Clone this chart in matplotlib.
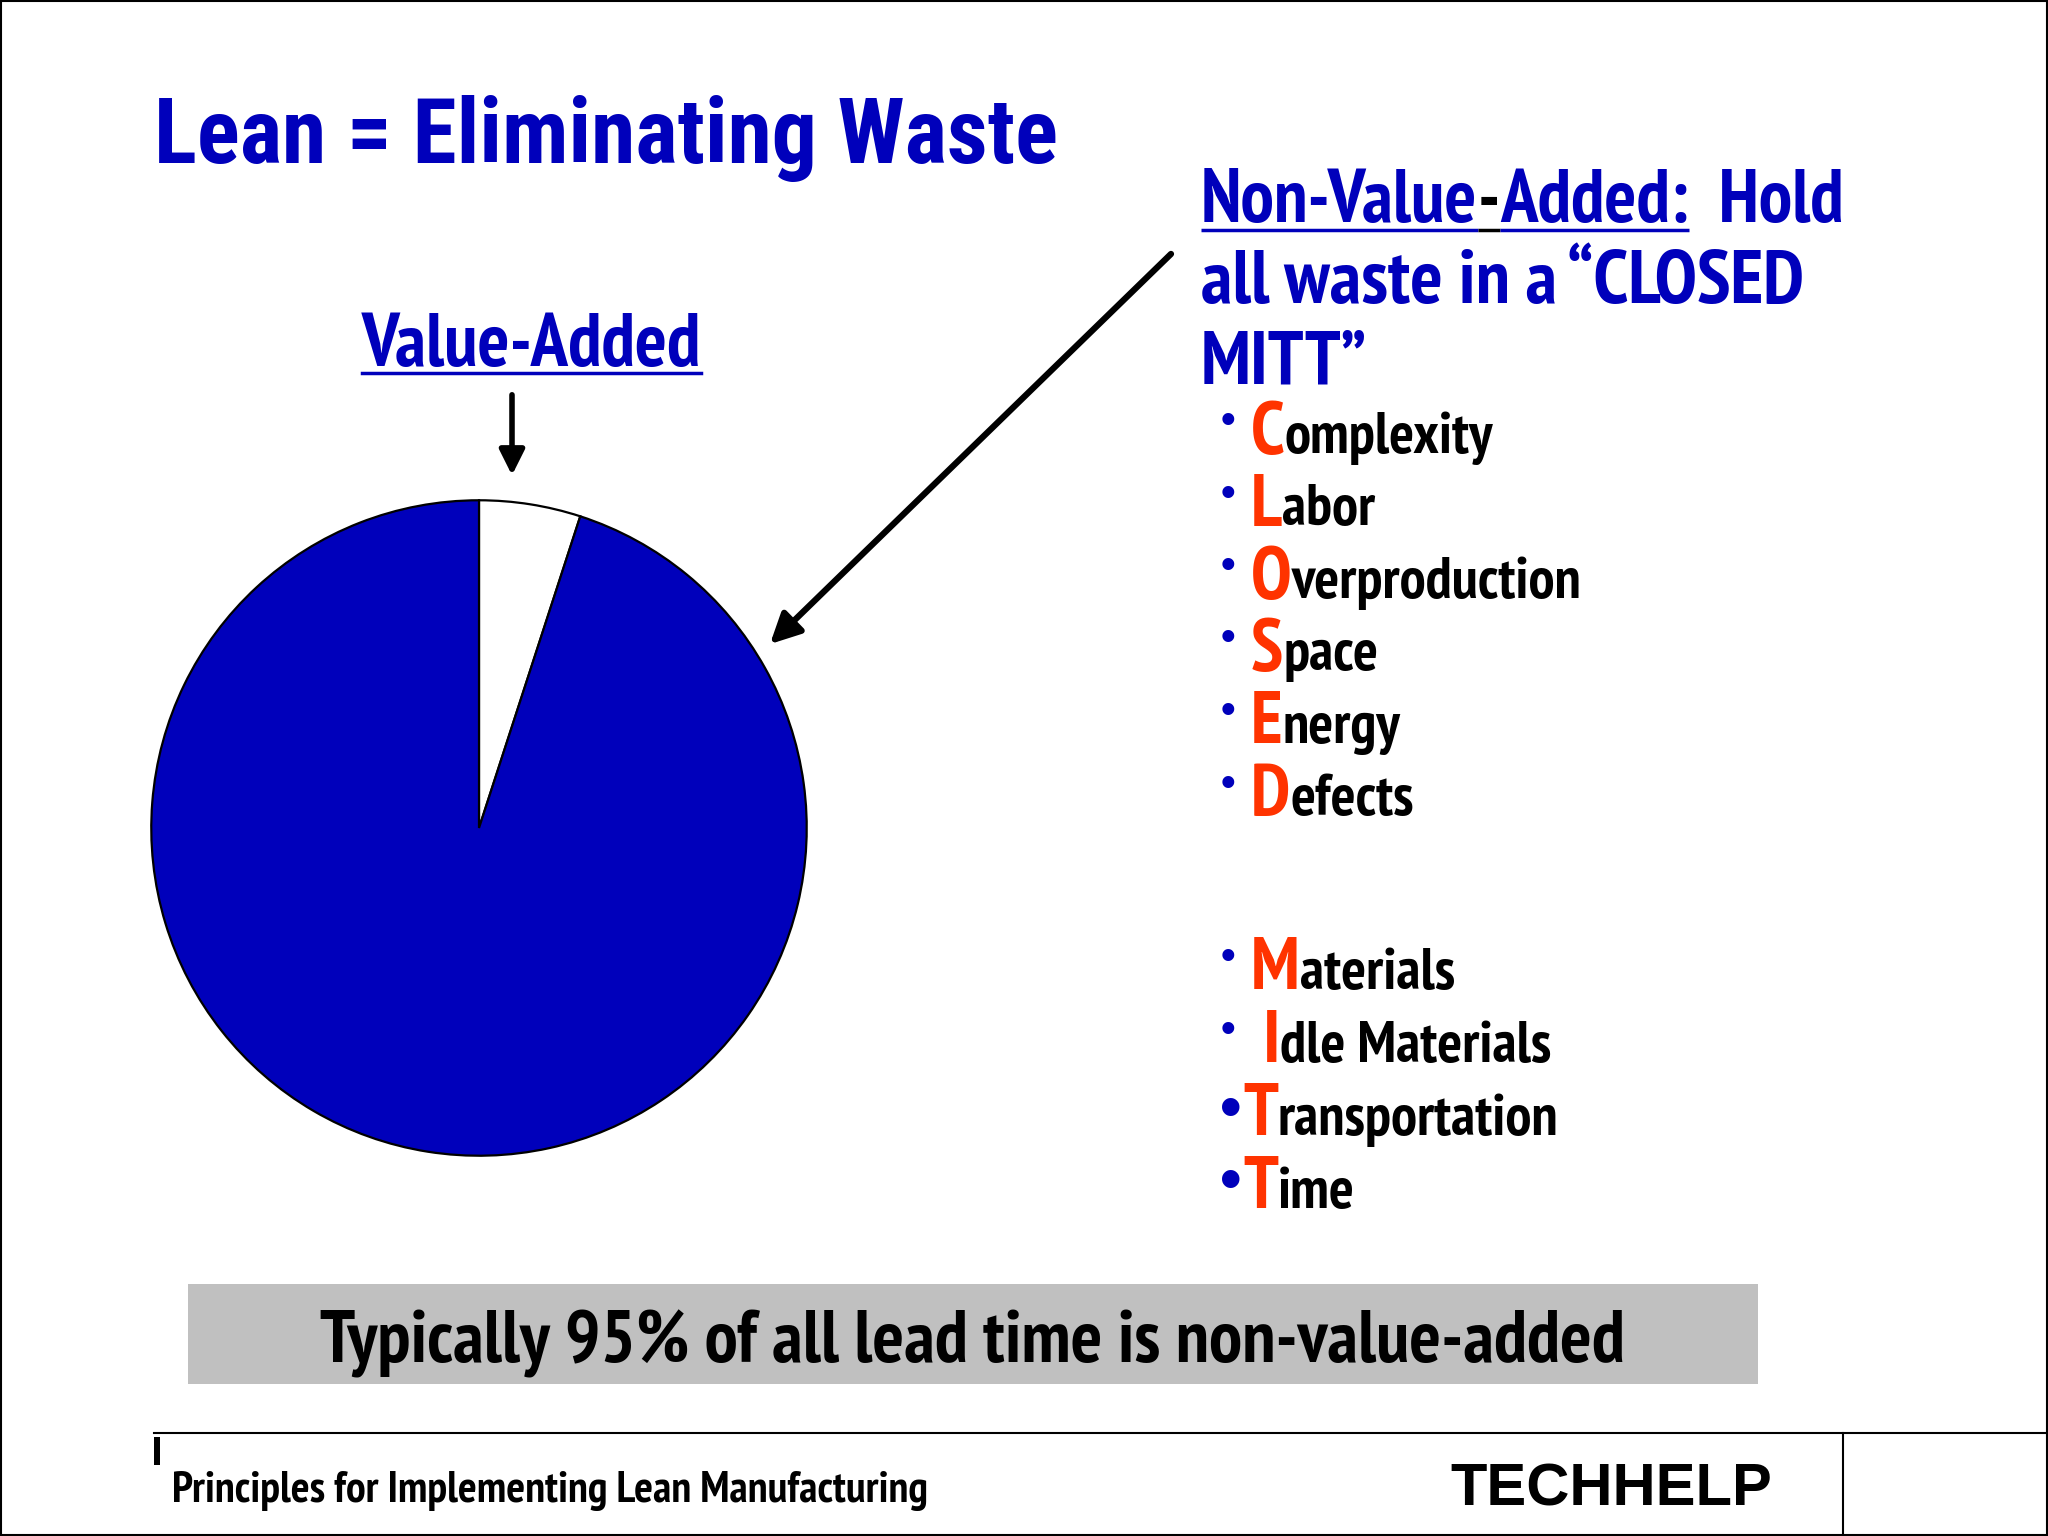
import matplotlib
matplotlib.use('Agg')
import matplotlib.pyplot as plt
from matplotlib.patches import Rectangle

W, H = 2048, 1536
BLUE = '#0000BB'
RED = '#FF3300'
GRAY = '#C0C0C0'
NARROW = ['PT Sans Narrow', 'Roboto Condensed', 'Liberation Sans', 'DejaVu Sans']
TITLE_FONT = ['Roboto Condensed', 'Liberation Sans', 'DejaVu Sans']

plt.rcParams['font.family'] = NARROW
plt.rcParams['font.weight'] = 'bold'

# data: share of lead time
shares = [5, 95]                 # value-added, non-value-added (%)
share_colors = ['white', BLUE]
closed_letters = ['C', 'L', 'O', 'S', 'E', 'D']
closed_words = ['omplexity', 'abor', 'verproduction', 'pace', 'nergy', 'efects']
mitt_letters = ['M', 'I', 'T', 'T']
mitt_words = ['aterials', 'dle Materials', 'ransportation', 'ime']

fig = plt.figure(figsize=(W / 100, H / 100), dpi=100)
fig.patch.set_facecolor('white')

# pie
cx, cy, r = 479, 828, 331
pax = fig.add_axes([(cx - r) / W, (H - cy - r) / H, 2 * r / W, 2 * r / H])
pax.pie(shares, colors=share_colors, startangle=90, counterclock=False,
        wedgeprops=dict(edgecolor='black', linewidth=1.6))
pax.set_xlim(-1.01, 1.01)
pax.set_ylim(-1.01, 1.01)
pax.set_axis_off()

# overlay in pixel coords (y down)
ax = fig.add_axes([0, 0, 1, 1])
ax.set_xlim(0, W)
ax.set_ylim(H, 0)
ax.set_axis_off()
rend = fig.canvas.get_renderer()


def put(x, y, s, **kw):
    t = ax.text(x, y, s, va='baseline', ha='left', **kw)
    bb = t.get_window_extent(rend).transformed(ax.transData.inverted())
    return t, bb


def bullet(x, y, size):
    ax.text(x, y, '\u2022', ha='center', va='center', fontsize=size,
            color=BLUE, family=['Liberation Sans', 'DejaVu Sans'])


# title
put(154, 163, 'Lean = Eliminating Waste', fontsize=64.5, color=BLUE, family=TITLE_FONT)

# value-added label + arrow
t, bb = put(362, 366, 'Value-Added', fontsize=54, color=BLUE)
ax.plot([bb.x0, bb.x1], [373, 373], color=BLUE, lw=2.5)
ax.annotate('', xy=(512, 478), xytext=(512, 392),
            arrowprops=dict(arrowstyle='-|>', lw=4, color='black', mutation_scale=38))

# non-value-added header
x = 1201
for s, c in [('Non-Value', BLUE), ('-', 'black'), ('Added:', BLUE)]:
    t, bb = put(x, 222, s, fontsize=54, color=c)
    ax.plot([x, bb.x1], [230, 230], color=c, lw=2.5, solid_capstyle='butt')
    x = bb.x1
put(x, 222, '  Hold', fontsize=54, color=BLUE)
put(1201, 303, 'all waste in a \u201cCLOSED', fontsize=55, color=BLUE)
put(1201, 383, 'MITT\u201d', fontsize=54, color=BLUE)

ax.annotate('', xy=(768, 646), xytext=(1173, 252),
            arrowprops=dict(arrowstyle='-|>', lw=4.5, color='black', mutation_scale=45))

# CLOSED list
for i, (L, w) in enumerate(zip(closed_letters, closed_words)):
    base = 453 + i * 72.5
    bullet(1228, base - 31, 30)
    t, bb = put(1251, base, L, fontsize=53, color=RED)
    put(bb.x1, base, w, fontsize=42, color='black')

# MITT list
mitt_x = [1251, 1263, 1243, 1243]
for i, (L, w) in enumerate(zip(mitt_letters, mitt_words)):
    base = 989 + i * 73
    if i < 2:
        bullet(1228, base - 31, 30)
    else:
        bullet(1231, base - 24, 44)
    t, bb = put(mitt_x[i], base, L, fontsize=53, color=RED)
    put(bb.x1, base, w, fontsize=42, color='black')

# summary box
ax.add_patch(Rectangle((188, 1284), 1570, 100, fc=GRAY, ec='none'))
ax.text(972, 1362, 'Typically %d%% of all lead time is non-value-added' % shares[1],
        ha='center', va='baseline', fontsize=53.5, color='black')

# footer
ax.plot([154, W], [1433, 1433], color='black', lw=1.5)
ax.plot([1843, 1843], [1433, H], color='black', lw=1.5)
ax.add_patch(Rectangle((154, 1437), 6, 28, fc='black', ec='none'))
put(172, 1502, 'Principles for Implementing Lean Manufacturing', fontsize=31.8, color='black')
put(1450, 1505, 'TECHHELP', fontsize=43, color='black',
    family=['Liberation Sans', 'DejaVu Sans'], weight='heavy')

# page border
ax.add_patch(Rectangle((1, 1), W - 2, H - 2, fill=False, ec='black', lw=1.5))

fig.savefig('out.png', dpi=100)
